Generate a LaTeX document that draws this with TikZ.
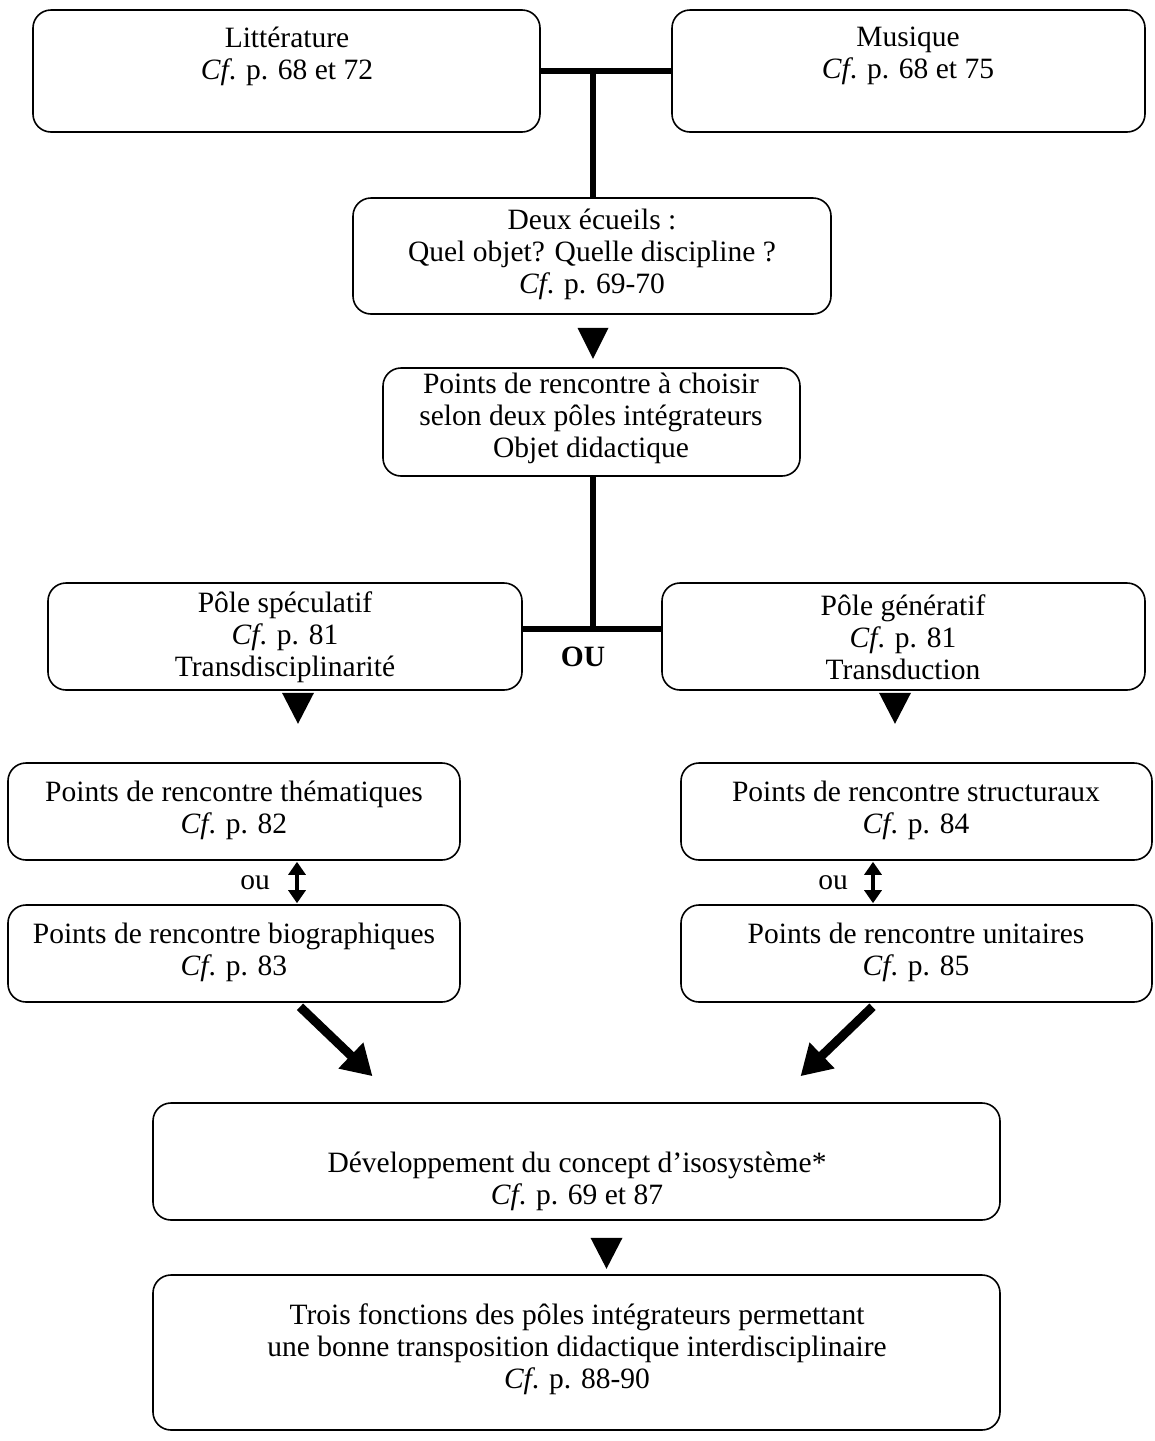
\documentclass[tikz,border=0pt]{standalone}
\usepackage{fontspec}
\setmainfont{Liberation Serif}
\usetikzlibrary{arrows.meta,calc}
\begin{document}
\begin{tikzpicture}[x=1pt,y=-1pt,
  box/.style={draw, line width=1.6pt, rounded corners=18pt, inner sep=0pt},
  txt/.style={align=center, inner sep=0pt, font=\fontsize{29.5}{32}\selectfont},
  bar/.style={line width=6pt},
  dbl/.style={line width=4pt, {Triangle[width=17pt,length=13pt]}-{Triangle[width=17pt,length=13pt]}},
  diag/.style={line width=9pt, -{Triangle[width=34pt,length=30pt]}},
  tri/.style={fill=black}]
\useasboundingbox (0,0) rectangle (1155,1441);
% boxes
\node[box, minimum width=507pt, minimum height=122pt] (b1) at (286.5,71) {};
\node[box, minimum width=473pt, minimum height=122pt] (b2) at (908.5,71) {};
\node[box, minimum width=478pt, minimum height=116pt] (b3) at (592,256) {};
\node[box, minimum width=417pt, minimum height=108pt] (b4) at (591.5,422) {};
\node[box, minimum width=474pt, minimum height=107pt] (b5) at (285,636.5) {};
\node[box, minimum width=483pt, minimum height=107pt] (b6) at (903.5,636.5) {};
\node[box, minimum width=452pt, minimum height=97pt] (b7) at (234,811.5) {};
\node[box, minimum width=471pt, minimum height=97pt] (b8) at (916.5,811.5) {};
\node[box, minimum width=452pt, minimum height=97pt] (b9) at (234,953.5) {};
\node[box, minimum width=471pt, minimum height=97pt] (b10) at (916.5,953.5) {};
\node[box, minimum width=847pt, minimum height=117pt] (b11) at (576.5,1161.5) {};
\node[box, minimum width=847pt, minimum height=155pt] (b12) at (576.5,1352.5) {};
% texts
\node[txt] (t1) at (287,56) {Littérature\\\textit{Cf}. p. 68 et 72};
\node[txt] (t2) at (908,56) {Musique\\\textit{Cf}. p. 68 et 75};
\node[txt] (t3) at (592,254) {Deux écueils :\\Quel objet? Quelle discipline ?\\\textit{Cf}. p. 69-70};
\node[txt] (t4) at (591,418) {Points de rencontre à choisir\\selon deux pôles intégrateurs\\Objet didactique};
\node[txt] (t5) at (285,637) {Pôle spéculatif\\\textit{Cf}. p. 81\\Transdisciplinarité};
\node[txt] (t6) at (903,637) {Pôle génératif\\\textit{Cf}. p. 81\\Transduction};
\node[txt] (t7) at (234,810) {Points de rencontre thématiques\\\textit{Cf}. p. 82};
\node[txt] (t8) at (916,810) {Points de rencontre structuraux\\\textit{Cf}. p. 84};
\node[txt] (t9) at (234,952) {Points de rencontre biographiques\\\textit{Cf}. p. 83};
\node[txt] (t10) at (916,952) {Points de rencontre unitaires\\\textit{Cf}. p. 85};
\node[txt] (t11) at (577,1181) {Développement du concept d’isosystème*\\\textit{Cf}. p. 69 et 87};
\node[txt] (t12) at (577,1349) {Trois fonctions des pôles intégrateurs permettant\\une bonne transposition didactique interdisciplinaire\\\textit{Cf}. p. 88-90};
\node[txt, font=\fontsize{29.5}{32}\selectfont\bfseries] (ou) at (583,657) {OU};
\node[txt] (ou1) at (255,883) {ou};
\node[txt] (ou2) at (833,883) {ou};
% connectors
\coordinate (j1) at (593,71);
\draw[bar] (b1.east |- j1) -- (b2.west |- j1);
\draw[bar] (j1) -- (j1 |- b3.north);
\coordinate (j2) at (593,629);
\draw[bar] (j2 |- b4.south) -- (j2);
\draw[bar] (b5.east |- j2) -- (b6.west |- j2);
\fill[tri] ($(b3.south)+(-14.5,13)$) -- ++(31,0) -- ++(-15.5,31) -- cycle;
\fill[tri] ($(b5.south)+(-3,2)$) -- ++(32,0) -- ++(-16,31) -- cycle;
\fill[tri] ($(b6.south)+(-24.5,2)$) -- ++(32,0) -- ++(-16,31) -- cycle;
\fill[tri] ($(b11.south)+(14,17)$) -- ++(32,0) -- ++(-16,31) -- cycle;
\draw[dbl] ($(b7.south)+(63,1)$) -- ($(b9.north)+(63,-1)$);
\draw[dbl] ($(b8.south)+(-43.5,1)$) -- ($(b10.north)+(-43.5,-1)$);
\draw[diag] ($(b9.south)+(66,4)$) -- ($(b11.north)+(-204,-26)$);
\draw[diag] ($(b10.south)+(-44,4)$) -- ($(b11.north)+(224,-26)$);
\end{tikzpicture}
\end{document}
